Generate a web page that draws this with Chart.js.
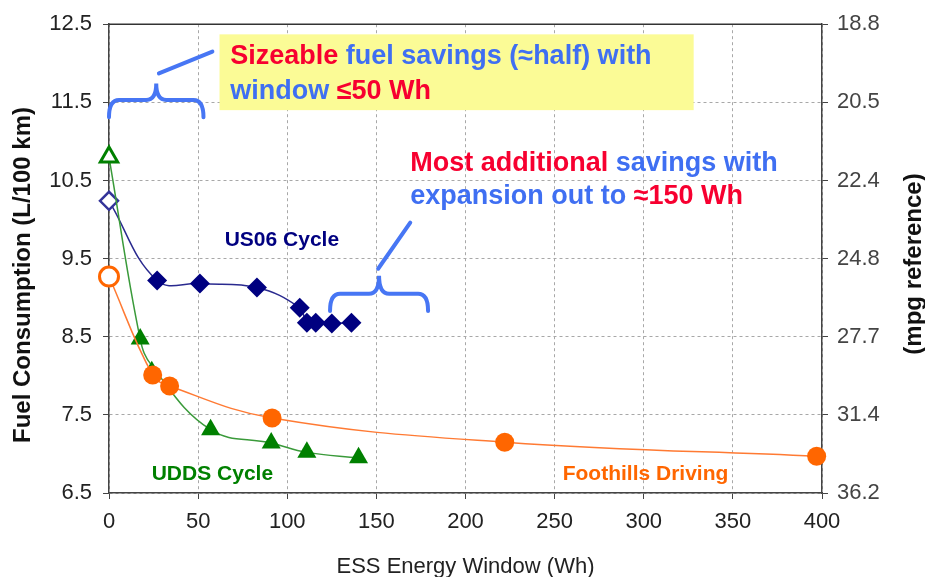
<!DOCTYPE html>
<html>
<head>
<meta charset="utf-8">
<script src="https://cdn.jsdelivr.net/npm/chart.js@4.4.0/dist/chart.umd.min.js"></script>
<style>
  html, body { margin: 0; padding: 0; background: #fff; }
  canvas { display: block; }
</style>
</head>
<body>
<canvas id="fuelChart" width="925" height="577"></canvas>
<script>
// US06 cycle (first point = baseline, open marker)
const us06X = [0, 27, 51, 83, 107, 111, 116, 125, 136];
const us06Y = [10.24, 9.22, 9.18, 9.13, 8.87, 8.68, 8.68, 8.67, 8.68];
// UDDS cycle
const uddsX = [0, 17.5, 24, 57, 91, 111, 140];
const uddsY = [10.8, 8.47, 8.13, 7.31, 7.14, 7.02, 6.95];
// Foothills driving
const footX = [0, 24.5, 34, 91.5, 222, 397];
const footY = [9.27, 8.01, 7.87, 7.46, 7.15, 6.97];

// right axis labels (mpg equivalents of 6.5 ... 12.5 L/100 km)
const mpgLabels = ['36.2', '31.4', '27.7', '24.8', '22.4', '20.5', '18.8'];

const FONT = "'Liberation Sans', Arial, sans-serif";
const RED = '#f70030';
const BLUE = '#3f6ff2';
const BRACE = '#4776f4';

function toPoints(xs, ys) {
    return xs.map((x, i) => ({ x: x, y: ys[i] }));
}

// first point of each series is drawn hollow
function hollowFirst(n, color) {
    return Array.from({ length: n }, (_, i) => i === 0 ? '#ffffff' : color);
}

function drawRich(ctx, parts, x, y) {
    let cx = x;
    parts.forEach(([txt, col]) => {
        ctx.fillStyle = col;
        ctx.fillText(txt, cx, y);
        cx += ctx.measureText(txt).width;
    });
}

function drawBrace(ctx, xs, ys, x0, x1, yb, yt, yp) {
    const px0 = xs.getPixelForValue(x0), px1 = xs.getPixelForValue(x1);
    const pm = (px0 + px1) / 2;
    const pb = ys.getPixelForValue(yb), pt = ys.getPixelForValue(yt), pp = ys.getPixelForValue(yp);
    const r = 10;
    ctx.beginPath();
    ctx.moveTo(px0, pb);
    ctx.quadraticCurveTo(px0, pt, px0 + r, pt);
    ctx.lineTo(pm - r, pt);
    ctx.quadraticCurveTo(pm, pt, pm, pp);
    ctx.quadraticCurveTo(pm, pt, pm + r, pt);
    ctx.lineTo(px1 - r, pt);
    ctx.quadraticCurveTo(px1, pt, px1, pb);
    ctx.stroke();
}

const annotations = {
    id: 'annotations',
    beforeDatasetsDraw(chart) {
        const { ctx, scales: { x, y } } = chart;
        // yellow callout box
        ctx.save();
        ctx.fillStyle = '#fbfb96';
        const bx0 = x.getPixelForValue(62), bx1 = x.getPixelForValue(328);
        const by0 = y.getPixelForValue(12.37), by1 = y.getPixelForValue(11.4);
        ctx.fillRect(bx0, by0, bx1 - bx0, by1 - by0);
        ctx.restore();
    },
    afterDraw(chart) {
        const { ctx, chartArea, scales: { x, y } } = chart;
        ctx.save();
        // top frame line
        ctx.strokeStyle = '#333';
        ctx.lineWidth = 1.5;
        ctx.beginPath();
        ctx.moveTo(chartArea.left, chartArea.top);
        ctx.lineTo(chartArea.right, chartArea.top);
        ctx.stroke();

        // braces and pointers
        ctx.strokeStyle = BRACE;
        ctx.lineWidth = 4;
        ctx.lineCap = 'round';
        drawBrace(ctx, x, y, 0, 53, 11.31, 11.53, 11.74);
        drawBrace(ctx, x, y, 124, 179, 8.83, 9.05, 9.28);
        ctx.beginPath();
        ctx.moveTo(x.getPixelForValue(28), y.getPixelForValue(11.87));
        ctx.lineTo(x.getPixelForValue(58), y.getPixelForValue(12.15));
        ctx.moveTo(x.getPixelForValue(151), y.getPixelForValue(9.37));
        ctx.lineTo(x.getPixelForValue(169), y.getPixelForValue(9.96));
        ctx.stroke();

        // callout texts
        ctx.font = 'bold 27px ' + FONT;
        ctx.textBaseline = 'middle';
        ctx.textAlign = 'left';
        const tx1 = x.getPixelForValue(68);
        drawRich(ctx, [['Sizeable ', RED], ['fuel savings (\u2248half) with', BLUE]], tx1, y.getPixelForValue(12.08));
        drawRich(ctx, [['window ', BLUE], ['\u226450 Wh', RED]], tx1, y.getPixelForValue(11.64));
        const tx2 = x.getPixelForValue(169);
        drawRich(ctx, [['Most additional ', RED], ['savings with', BLUE]], tx2, y.getPixelForValue(10.72));
        drawRich(ctx, [['expansion out to ', BLUE], ['\u2248150 Wh', RED]], tx2, y.getPixelForValue(10.29));

        // series labels
        ctx.font = 'bold 21px ' + FONT;
        ctx.textAlign = 'center';
        ctx.fillStyle = '#000080';
        ctx.fillText('US06 Cycle', x.getPixelForValue(97), y.getPixelForValue(9.73));
        ctx.fillStyle = '#008000';
        ctx.fillText('UDDS Cycle', x.getPixelForValue(58), y.getPixelForValue(6.74));
        ctx.fillStyle = '#ff6600';
        ctx.fillText('Foothills Driving', x.getPixelForValue(301), y.getPixelForValue(6.74));

        // axis titles
        ctx.fillStyle = '#111';
        ctx.font = 'bold 24px ' + FONT;
        ctx.save();
        ctx.translate(23, 275);
        ctx.rotate(-Math.PI / 2);
        ctx.fillText('Fuel Consumption (L/100 km)', 0, 0);
        ctx.restore();
        ctx.save();
        ctx.translate(914, 264);
        ctx.rotate(-Math.PI / 2);
        ctx.fillText('(mpg reference)', 0, 0);
        ctx.restore();
        ctx.fillStyle = '#222';
        ctx.font = '22px ' + FONT;
        ctx.fillText('ESS Energy Window (Wh)', (chartArea.left + chartArea.right) / 2, 567);
        ctx.restore();
    }
};

const ctx = document.getElementById('fuelChart').getContext('2d');
new Chart(ctx, {
    type: 'line',
    data: {
        datasets: [
            {
                label: 'Foothills Driving',
                data: toPoints(footX, footY),
                borderColor: '#ff7a33',
                borderWidth: 1.5,
                tension: 0.4,
                pointStyle: 'circle',
                pointRadius: 9.5,
                pointBorderWidth: [3, 0, 0, 0, 0, 0],
                pointBorderColor: '#ff6600',
                pointBackgroundColor: hollowFirst(footX.length, '#ff6600'),
                clip: false
            },
            {
                label: 'UDDS Cycle',
                data: toPoints(uddsX, uddsY),
                borderColor: '#3a9a3a',
                borderWidth: 1.5,
                tension: 0.4,
                pointStyle: 'triangle',
                pointRadius: [10, 11, 5, 11, 11, 11, 11],
                pointBorderWidth: [3, 0, 0, 0, 0, 0, 0],
                pointBorderColor: '#008000',
                pointBackgroundColor: hollowFirst(uddsX.length, '#008000'),
                clip: false
            },
            {
                label: 'US06 Cycle',
                data: toPoints(us06X, us06Y),
                borderColor: '#2a2a8f',
                borderWidth: 1.5,
                tension: 0.4,
                pointStyle: 'rectRot',
                pointRadius: [9, 10, 10, 10, 10, 10, 10, 10, 10],
                pointBorderWidth: [2.5, 0, 0, 0, 0, 0, 0, 0, 0],
                pointBorderColor: '#333399',
                pointBackgroundColor: hollowFirst(us06X.length, '#000080'),
                clip: false
            }
        ]
    },
    options: {
        responsive: false,
        animation: false,
        events: [],
        layout: { padding: { top: 24, left: 0, right: 0, bottom: 0 } },
        plugins: {
            legend: { display: false },
            title: { display: false },
            tooltip: { enabled: false }
        },
        scales: {
            x: {
                type: 'linear',
                min: 0,
                max: 400,
                afterFit: s => { s.height = 84; },
                ticks: { stepSize: 50, color: '#222', padding: 10, font: { family: FONT, size: 22 } },
                grid: { color: '#a8a8a8', tickColor: '#444', tickLength: 6 },
                border: { color: '#444', width: 1.5, dash: [3, 3] }
            },
            y: {
                min: 6.5,
                max: 12.5,
                afterFit: s => { s.width = 109; },
                ticks: { stepSize: 1, color: '#222', padding: 11, font: { family: FONT, size: 22 },
                    callback: v => v.toFixed(1) },
                grid: { color: '#a8a8a8', tickColor: '#444', tickLength: 6 },
                border: { color: '#444', width: 1.5, dash: [3, 3] }
            },
            y2: {
                position: 'right',
                min: 6.5,
                max: 12.5,
                afterFit: s => { s.width = 103; },
                ticks: { stepSize: 1, color: '#444', padding: 9, font: { family: FONT, size: 22 },
                    callback: (v, i) => mpgLabels[i] },
                grid: { drawOnChartArea: false, color: '#444', tickLength: 6 },
                border: { color: '#444', width: 1.5 }
            }
        }
    },
    plugins: [annotations]
});
</script>
</body>
</html>
